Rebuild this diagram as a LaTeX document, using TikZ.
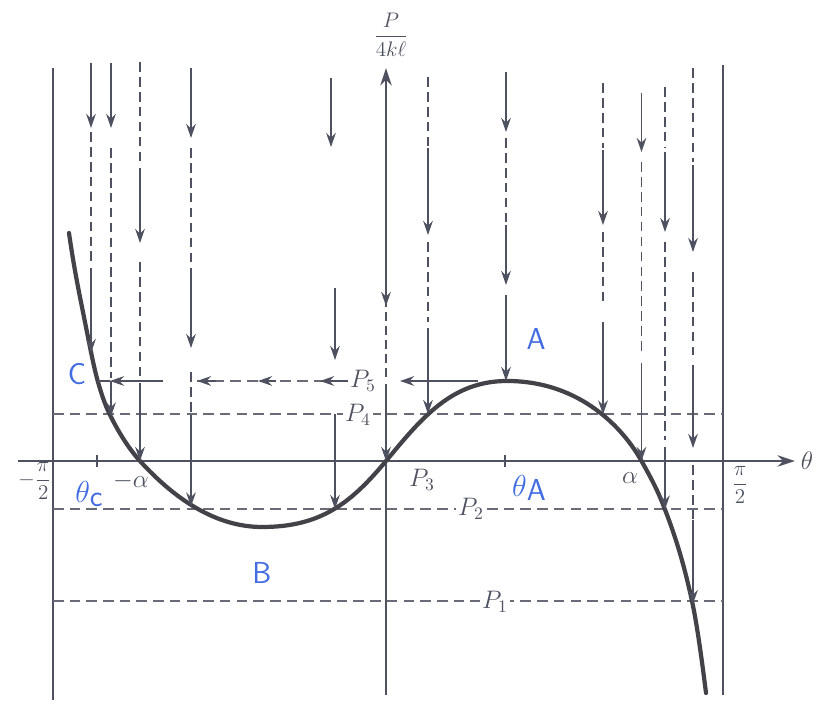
\documentclass[tikz,border=0pt]{standalone}
\usepackage{amsmath}
\usepackage{tikz}
\usetikzlibrary{arrows.meta,positioning}

\definecolor{inkgray}{RGB}{78,82,96}
\definecolor{curvegray}{RGB}{66,66,72}
\definecolor{handblue}{RGB}{66,108,226}

\begin{document}
\begin{tikzpicture}[
    >={Stealth[length=8pt,width=5.5pt]},
    wall/.style={draw=inkgray, line width=1.1pt},
    axis/.style={draw=inkgray, line width=1.4pt},
    curve/.style={draw=curvegray, line width=2.4pt, line cap=round},
    flow/.style={->, draw=inkgray, line width=0.9pt},
    trail/.style={draw=inkgray, line width=0.9pt, dash pattern=on 5.5pt off 3pt},
    level/.style={draw=inkgray!85, line width=0.9pt, dash pattern=on 6pt off 3.5pt},
    lbl/.style={font=\Large, text=inkgray, inner sep=1pt},
    fraclbl/.style={font=\large, text=inkgray, inner sep=1pt},
    hand/.style={font=\LARGE\sffamily, text=handblue, inner sep=1pt}
]
    \useasboundingbox (-7.72,-4.96) rectangle (8.62,9.22);

    % walls at -pi/2 and pi/2, axes
    \draw[wall] (-6.66,-4.78) -- (-6.66,7.86);
    \draw[wall] (6.74,-4.68) -- (6.74,7.92);
    \coordinate (O) at (0,0);
    \draw[axis, -{Stealth[length=10pt,width=6.5pt]}] (-7.36,0) -- (8.18,0);
    \node[lbl] (theta) at (8.42,0) {$\theta$};
    \draw[axis] (0,-4.68) -- (0,1.54);
    \draw[axis, dash pattern=on 5pt off 3pt] (0,1.68) -- (0,3.08);
    \draw[axis, -{Stealth[length=10pt,width=6.5pt]}] (0,3.08) -- (0,7.86);
    \node[fraclbl] (pload) at (0.10,8.52) {$\dfrac{P}{4k\ell}$};

    % load levels
    \draw[level] (-6.66,0.94) -- (6.74,0.94);
    \draw[level] (-6.66,-0.96) -- (6.74,-0.96);
    \draw[level] (-6.66,-2.80) -- (6.74,-2.80);

    % equilibrium curve
    \draw[curve] (-6.34,4.56)
        .. controls (-6.233,3.81) and (-6.127,3.313) .. (-6.02,2.78)
        .. controls (-5.933,2.347) and (-5.847,1.883) .. (-5.76,1.58)
        .. controls (-5.68,1.30) and (-5.60,1.08) .. (-5.52,0.92)
        .. controls (-5.32,0.52) and (-5.12,0.22) .. (-4.92,0)
        .. controls (-4.20,-0.79) and (-3.38,-1.32) .. (-2.48,-1.32)
        .. controls (-1.30,-1.32) and (-0.70,-0.84) .. (0,0)
        .. controls (0.70,0.84) and (1.30,1.60) .. (2.42,1.60)
        .. controls (3.90,1.60) and (4.76,0.63) .. (5.11,0)
        .. controls (5.26,-0.27) and (5.41,-0.53) .. (5.56,-0.92)
        .. controls (5.75,-1.41) and (5.93,-1.93) .. (6.12,-2.80)
        .. controls (6.22,-3.26) and (6.32,-4.00) .. (6.40,-4.64);
    \coordinate (ca) at (-5.90,2.16);
    \coordinate (C) at (-5.76,1.60);
    \coordinate (cb) at (-5.50,0.89);
    \coordinate (cc) at (-4.92,0);
    \coordinate (cd) at (-3.90,-0.91);
    \coordinate (cf) at (-1.02,-0.96);
    \coordinate (cg) at (0.84,0.94);
    \coordinate (A) at (2.40,1.60);
    \coordinate (ci) at (4.34,0.93);
    \coordinate (cj) at (5.11,0);
    \coordinate (ck) at (5.58,-0.97);
    \coordinate (cl) at (6.14,-2.86);

    % falling paths
    \draw[flow] (-5.90,7.96) -- (-5.90,6.66);
    \draw[trail] (-5.90,6.58) -- (-5.90,3.98);
    \draw[flow] (-5.90,3.86) -- (ca);

    \draw[flow] (-5.50,7.96) -- (-5.50,6.66);
    \draw[trail] (-5.50,6.26) -- (-5.50,1.66);
    \draw[flow] (-5.50,1.60) -- (cb);

    \draw[trail] (-4.92,7.98) -- (-4.92,5.98);
    \draw[flow] (-4.92,5.86) -- (-4.92,4.36);
    \draw[trail] (-4.92,3.98) -- (-4.92,1.66);
    \draw[flow] (-4.92,1.56) -- (cc);

    \draw[flow] (-3.90,7.86) -- (-3.90,6.46);
    \draw[trail] (-3.90,6.26) -- (-3.90,3.92);
    \draw[flow] (-3.90,3.86) -- (-3.90,2.26);
    \draw[trail] (-3.90,1.78) -- (-3.90,0.96);
    \draw[flow] (-3.90,0.92) -- (cd);

    \draw[flow] (-1.10,7.66) -- (-1.10,6.28);
    \draw[flow] (-1.02,3.46) -- (-1.02,2.02);
    \draw[flow] (-1.02,0.94) -- (cf);

    \draw[flow] (0,3.60) -- (0,3.10);
    \draw[flow] (0,0.50) -- (O);

    \draw[trail] (0.84,7.68) -- (0.84,6.30);
    \draw[flow] (0.84,6.26) -- (0.84,4.52);
    \draw[trail] (0.84,4.38) -- (0.84,2.78);
    \draw[flow] (0.84,2.66) -- (cg);

    \draw[flow] (2.40,7.78) -- (2.40,6.58);
    \draw[trail] (2.40,6.46) -- (2.40,4.78);
    \draw[flow] (2.40,4.72) -- (2.40,3.52);
    \draw[flow] (2.40,3.32) -- (A);

    \draw[trail] (4.34,7.56) -- (4.34,6.26);
    \draw[flow] (4.34,6.22) -- (4.34,4.72);
    \draw[trail] (4.34,4.58) -- (4.34,3.12);
    \draw[flow] (4.34,2.78) -- (ci);

    \draw[flow] (5.11,7.36) -- (5.11,6.18);
    \draw[trail] (5.11,5.98) -- (5.11,2.12);
    \draw[flow] (5.11,1.96) -- (cj);

    \draw[trail] (5.58,7.48) -- (5.58,6.26);
    \draw[flow] (5.58,6.18) -- (5.58,4.58);
    \draw[trail] (5.58,4.38) -- (5.58,0.42);
    \draw[flow] (5.58,0.28) -- (ck);

    \draw[trail] (6.14,7.86) -- (6.14,5.98);
    \draw[flow] (6.14,5.92) -- (6.14,4.18);
    \draw[trail] (6.14,3.78) -- (6.14,2.12);
    \draw[flow] (6.14,1.92) -- (6.14,0.26);
    \draw[trail] (6.14,-0.08) -- (6.14,-1.18);
    \draw[flow] (6.14,-1.18) -- (cl);

    % snap-through at P5
    \draw[flow] (-4.46,1.60) -- (-5.52,1.60);
    \draw[draw=inkgray, line width=0.9pt] (-5.52,1.60) -- (C);
    \draw[level] (-3.78,1.60) -- (-0.74,1.60);
    \draw[flow] (-3.40,1.60) -- (-3.78,1.60);
    \draw[flow] (-2.20,1.60) -- (-2.56,1.60);
    \draw[flow] (-0.72,1.60) -- (-1.32,1.60);
    \draw[flow] (1.84,1.60) -- (0.28,1.60);

    % ticks
    \draw[axis] (-5.78,-0.12) -- (-5.78,0.12);
    \draw[axis] (2.38,-0.12) -- (2.38,0.12);

    % labels
    \node[lbl, fill=white] (p5) at (-0.46,1.60) {$P_5$};
    \node[lbl, fill=white] (p4) at (-0.56,0.92) {$P_4$};
    \node[lbl] (p3) at (0.72,-0.38) {$P_3$};
    \node[lbl, fill=white] (p2) at (1.70,-0.96) {$P_2$};
    \node[lbl, fill=white] (p1) at (2.18,-2.82) {$P_1$};
    \node[lbl] (malpha) at (-5.10,-0.40) {$-\alpha$};
    \node[lbl] (alpha) at (4.88,-0.34) {$\alpha$};
    \node[fraclbl] (mpi) at (-7.02,-0.40) {$-\dfrac{\pi}{2}$};
    \node[fraclbl] (pi) at (7.08,-0.48) {$\dfrac{\pi}{2}$};

    \node[hand] (lc) at (-6.18,1.74) {C};
    \node[hand] (la) at (3.00,2.44) {A};
    \node[hand] (lb) at (-2.48,-2.24) {B};
    \node[hand] (thc) at (-5.94,-0.66) {$\theta$\raisebox{-0.15em}{c}};
    \node[hand] (tha) at (2.86,-0.54) {$\theta$\raisebox{-0.15em}{A}};
\end{tikzpicture}
\end{document}
